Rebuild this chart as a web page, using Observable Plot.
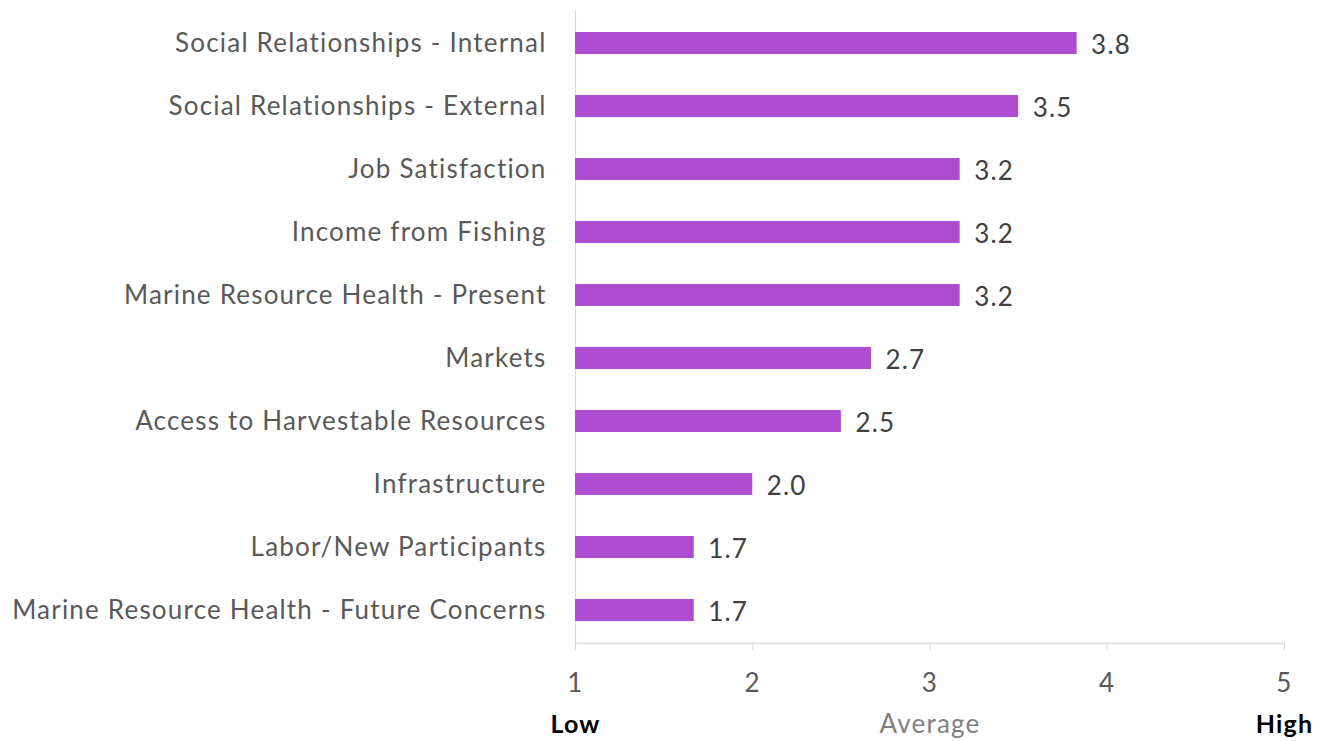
<!DOCTYPE html>
<html>
<head>
<meta charset="utf-8">
<script src="https://cdn.jsdelivr.net/npm/d3@7"></script>
<script src="https://cdn.jsdelivr.net/npm/@observablehq/plot@0.6"></script>
<style>
  html, body { margin: 0; padding: 0; background: #fff; }
  #chart svg { display: block; }
  #chart svg text { letter-spacing: 1.2px; }
</style>
</head>
<body>
<div id="chart"></div>
<script>
const categories = [
  "Social Relationships - Internal",
  "Social Relationships - External",
  "Job Satisfaction",
  "Income from Fishing",
  "Marine Resource Health - Present",
  "Markets",
  "Access to Harvestable Resources",
  "Infrastructure",
  "Labor/New Participants",
  "Marine Resource Health - Future Concerns"
];
const values = [3.83, 3.5, 3.17, 3.17, 3.17, 2.67, 2.5, 2.0, 1.67, 1.67];
const xTicks = [1, 2, 3, 4, 5];
const scaleEnds = [{x: 1, label: "Low"}, {x: 5, label: "High"}];
const axisTitle = "Average";

const data = categories.map((c, i) => ({category: c, value: values[i]}));
const FONT = "Lato, 'Open Sans', sans-serif";

const chart = Plot.plot({
  width: 1326,
  height: 741,
  marginLeft: 575,
  marginRight: 42,
  marginTop: 10,
  marginBottom: 98,
  style: {fontFamily: FONT, fontSize: "26px", color: "#595959", background: "#fff"},
  x: {domain: [1, 5]},
  y: {domain: categories, paddingInner: 0.65, paddingOuter: 0.325},
  marks: [
    Plot.ruleX([1], {stroke: "#d9d9d9", strokeWidth: 1.2}),
    Plot.frame({anchor: "bottom", stroke: "#d9d9d9", strokeWidth: 1.5}),
    Plot.barX(data, {x1: 1, x2: "value", y: "category", fill: "#b04cd2", inset: 0}),
    Plot.text(data, {x: "value", y: "category", text: d => d3.format(".1f")(d.value), textAnchor: "start", dx: 14, dy: 2, fill: "#404040", fontSize: 26}),
    Plot.axisY({tickSize: 0, tickPadding: 29, fontSize: 26, fill: "#595959", label: null}),
    Plot.axisX({ticks: xTicks, tickSize: 8, tickPadding: 22, stroke: "#d9d9d9", fill: "#595959", fontSize: 26, label: null, tickFormat: d3.format("d")}),
    Plot.text(scaleEnds, {x: "x", text: "label", frameAnchor: "bottom", dy: 89, fontWeight: "bold", fill: "#000", fontSize: 25}),
    Plot.text([axisTitle], {x: 3, text: d => d, frameAnchor: "bottom", dy: 89, fill: "#7f7f7f", fontSize: 26})
  ]
});
document.getElementById("chart").appendChild(chart);
</script>
</body>
</html>
